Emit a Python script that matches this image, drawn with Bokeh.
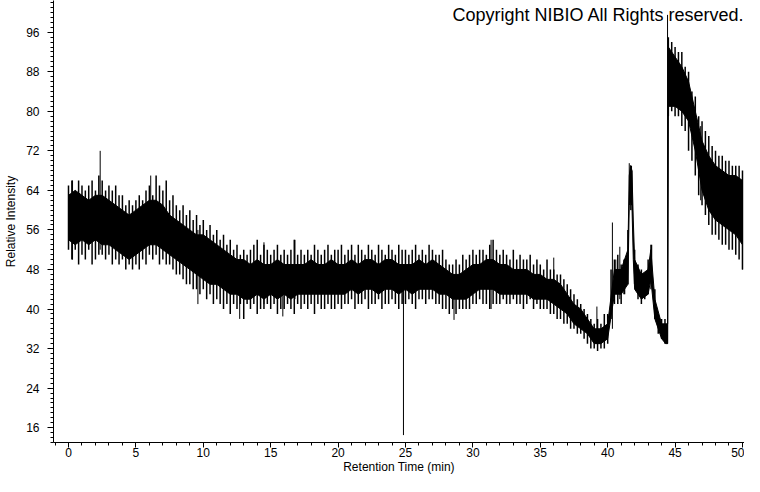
from bokeh.plotting import figure
from bokeh.models import Range1d, SingleIntervalTicker, Label, ColumnDataSource
from bokeh.embed import file_html
from bokeh.resources import INLINE

# dense (solid black) part of the trace
t_core = [0, 0.5, 1, 1.5, 2, 2.5, 3, 3.5, 4, 4.5,
          5, 5.5, 6, 6.5, 7, 7.5, 8, 8.5, 9, 9.5,
          10, 10.5, 11, 11.5, 12, 12.5, 13, 13.5, 14, 14.5,
          15, 15.5, 16, 16.5, 17, 17.5, 18, 18.5, 19, 19.5,
          20, 20.5, 21, 21.5, 22, 22.5, 23, 23.5, 24, 24.5,
          25, 25.5, 26, 26.5, 27, 27.5, 28, 28.5, 29, 29.5,
          30, 30.5, 31, 31.5, 32, 32.5, 33, 33.5, 34, 34.5,
          35, 35.5, 36, 36.5, 37, 37.5, 38, 38.5, 39, 39.5,
          40, 40.5, 41, 41.5, 41.6, 41.7, 41.8, 41.9, 42, 42.5,
          43, 43.2, 43.5, 44, 44.3, 44.45, 44.5, 45, 45.5, 46,
          46.5, 47, 47.5, 48, 48.5, 49, 49.5, 50]
core_hi = [63, 64, 63, 62, 63, 63, 62, 61, 60, 59,
           60, 61, 62, 62, 61, 59, 58, 57, 56, 55,
           55, 54, 53, 52, 51, 50, 50, 49, 50, 49,
           49, 50, 49, 49, 49, 49, 50, 49, 49, 50,
           49, 49, 50, 49, 50, 50, 49, 50, 50, 49,
           49, 49, 50, 49, 50, 49, 48, 47, 47, 48,
           49, 49, 50, 50, 49, 49, 48, 48, 48, 47,
           47, 46, 46, 45, 43, 41, 40, 38, 36, 36,
           37, 48, 48, 52, 67, 69, 68, 58, 50, 47,
           48, 52, 42, 37, 37, 37, 93, 91, 89, 86,
           80, 74, 71, 69, 68, 67, 67, 66]
core_lo = [54, 53, 54, 53, 54, 53, 53, 52, 51, 50,
           51, 52, 53, 53, 52, 51, 50, 49, 48, 47,
           46, 45, 45, 44, 43, 43, 42, 42, 43, 42,
           43, 42, 43, 42, 43, 43, 43, 43, 43, 43,
           43, 43, 44, 43, 44, 44, 43, 44, 44, 43,
           44, 43, 44, 44, 44, 43, 43, 42, 42, 42,
           43, 44, 44, 44, 43, 43, 43, 43, 43, 42,
           42, 42, 41, 40, 39, 37, 36, 35, 33, 33,
           34, 43, 43, 45, 61, 62, 61, 50, 44, 42,
           43, 46, 38, 34, 33, 33, 81, 81, 80, 78,
           72, 64, 60, 58, 57, 56, 55, 53]

# extent of the noise hairs every 0.25 min
t = [i * 0.25 for i in range(201)]
hi = [65, 66, 64, 66, 65, 64, 65, 66, 64, 67,
      66, 64, 65, 64, 65, 63, 63, 61, 62, 61,
      62, 63, 62, 64, 65, 63, 67, 65, 64, 66,
      62, 63, 61, 60, 61, 59, 60, 58, 59, 57,
      58, 56, 57, 55, 56, 54, 55, 53, 54, 52,
      53, 51, 52, 51, 52, 53, 54, 51, 53, 52,
      51, 52, 53, 51, 52, 51, 52, 54, 51, 52,
      51, 52, 51, 53, 52, 51, 52, 53, 51, 52,
      52, 53, 51, 52, 53, 51, 53, 52, 51, 53,
      52, 51, 53, 52, 51, 53, 52, 51, 53, 52,
      52, 51, 52, 53, 51, 52, 51, 53, 52, 51,
      51, 52, 50, 49, 49, 50, 49, 51, 50, 51,
      52, 51, 52, 52, 51, 53, 54, 52, 51, 52,
      51, 50, 52, 50, 51, 50, 50, 51, 49, 50,
      49, 48, 50, 48, 48, 47, 47, 46, 45, 44,
      43, 42, 41, 40, 39, 38, 37, 38, 37, 39,
      39, 48, 50, 51, 49, 50, 56, 69, 52, 49,
      48, 47, 50, 53, 44, 39, 38, 38, 95, 94,
      93, 92, 92, 89, 88, 84, 83, 79, 78, 76,
      75, 73, 72, 71, 71, 70, 70, 69, 69, 69,
      68]
lo = [52, 50, 52, 49, 51, 50, 52, 49, 50, 51,
      51, 50, 51, 49, 50, 49, 50, 48, 49, 48,
      49, 48, 50, 49, 51, 50, 51, 49, 50, 49,
      49, 48, 47, 47, 46, 45, 45, 44, 44, 43,
      44, 42, 43, 41, 42, 41, 40, 41, 39, 41,
      40, 41, 38, 41, 40, 41, 39, 40, 40, 41,
      40, 41, 39, 40, 40, 41, 40, 39, 41, 40,
      41, 40, 41, 39, 41, 40, 40, 41, 40, 40,
      41, 40, 41, 41, 42, 40, 41, 41, 42, 40,
      41, 41, 42, 40, 41, 41, 42, 41, 40, 41,
      41, 42, 41, 40, 42, 42, 41, 42, 42, 41,
      41, 40, 40, 39, 40, 39, 40, 40, 40, 40,
      41, 41, 42, 41, 41, 40, 41, 41, 41, 42,
      41, 41, 42, 41, 41, 40, 41, 42, 40, 41,
      40, 40, 40, 39, 39, 38, 38, 37, 37, 36,
      36, 35, 35, 34, 33, 32, 32, 31.5, 32, 32,
      33, 38, 41, 41, 41, 43, 45, 61, 45, 42,
      41, 42, 43, 45, 38, 35, 34, 33, 79, 80,
      79, 79, 77, 76, 72, 70, 67, 63, 61, 59,
      57, 55, 55, 54, 53, 53, 52, 52, 51, 50,
      48]

# isolated thin spikes (time, low end, high end)
spike_t = [0.3, 2.35, 6.1, 9.6, 12.7, 14.5, 15.9, 16.8, 24.85, 28.6, 31.35, 36.0, 39.2, 40.35,
           40.6, 40.9, 41.2, 41.6, 41.7, 41.8, 43.2, 44.44, 46.9, 50.0]
spike_lo = [50, 52, 53, 41, 38, 41, 38.5, 42, 14.5, 37.8, 40, 42, 33, 36,
            44, 42, 43, 61, 60, 60, 44, 33, 62, 48]
spike_hi = [66, 72, 67, 56, 50, 53.5, 49, 54, 46, 47, 54, 50.4, 40.5, 57.5,
            50, 52.6, 50, 69.5, 69, 68, 53, 99.5, 77, 66]

x_ticks_interval = 5
y_ticks_interval = 8

core = ColumnDataSource(dict(t=t_core, ch=core_hi, cl=core_lo))
hair = ColumnDataSource(dict(t=t, hi=hi, lo=lo))

p = figure(width=744, height=476, output_backend="svg", toolbar_location=None,
           x_range=Range1d(-1.113, 50.15), y_range=Range1d(13.0, 102.41),
           min_border_left=53, min_border_right=0, min_border_top=0, min_border_bottom=30)
p.outline_line_color = None
p.xgrid.visible = False
p.ygrid.visible = False
p.background_fill_color = "white"
p.border_fill_color = "white"

p.varea(x="t", y1="cl", y2="ch", source=core, fill_color="black")
p.line("t", "ch", source=core, line_color="black", line_width=1)
p.line("t", "cl", source=core, line_color="black", line_width=1)
p.segment(x0="t", y0="lo", x1="t", y1="hi", source=hair, line_color="black", line_width=1.5)
p.segment(x0=spike_t, y0=spike_lo, x1=spike_t, y1=spike_hi, line_color="black", line_width=1)

font = "Liberation Sans"
p.xaxis.ticker = SingleIntervalTicker(interval=x_ticks_interval, num_minor_ticks=5)
p.yaxis.ticker = SingleIntervalTicker(interval=y_ticks_interval, num_minor_ticks=8)
for ax in (p.xaxis[0], p.yaxis[0]):
    ax.axis_line_color = "black"
    ax.major_tick_line_color = "black"
    ax.minor_tick_line_color = "black"
    ax.major_tick_in = 0
    ax.minor_tick_in = 0
    ax.major_label_text_font = font
    ax.major_label_text_font_size = "12px"
    ax.major_label_text_color = "black"
    ax.axis_label_text_font = font
    ax.axis_label_text_font_size = "12px"
    ax.axis_label_text_font_style = "normal"
    ax.axis_label_text_color = "black"

p.xaxis.axis_label = "Retention Time (min)"
p.yaxis.axis_label = "Relative Intensity"
p.xaxis.major_tick_out = 5
p.xaxis.minor_tick_out = 3
p.xaxis.major_label_standoff = 0
p.xaxis.axis_label_standoff = 0
p.yaxis.major_tick_out = 6
p.yaxis.minor_tick_out = 3
p.yaxis.major_label_standoff = 8
p.yaxis.axis_label_standoff = 5

p.add_layout(Label(x=50.15, y=101.4, text="Copyright NIBIO All Rights reserved.",
                   text_align="right", text_baseline="top", text_font=font,
                   text_font_size="18px", text_color="black"))

open("out.html", "w").write(file_html(p, INLINE))
